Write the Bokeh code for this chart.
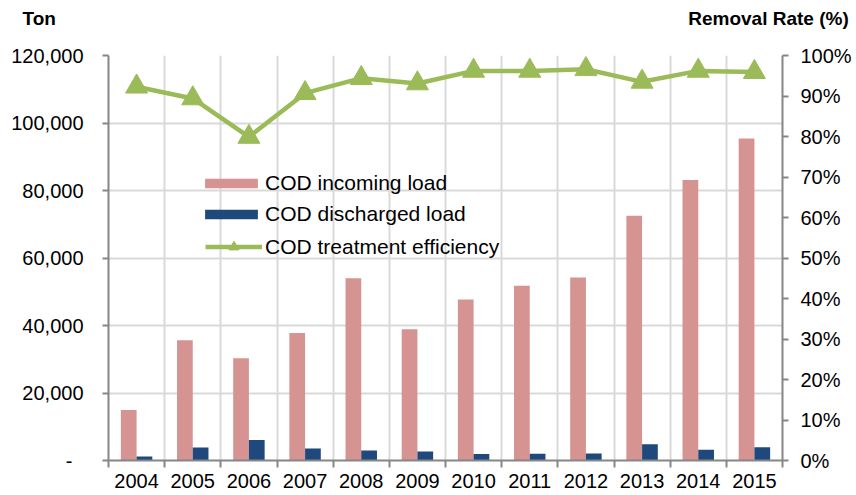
from bokeh.plotting import figure
from bokeh.models import (FixedTicker, LinearAxis, Range1d, Legend, LegendItem, LogScale,
                          NumeralTickFormatter, CustomJSTickFormatter, ColumnDataSource)
from bokeh.embed import file_html
from bokeh.resources import INLINE

# ---- data ----
years = [2004, 2005, 2006, 2007, 2008, 2009, 2010, 2011, 2012, 2013, 2014, 2015]
incoming = [15000, 35600, 30300, 37800, 54000, 38900, 47700, 51800, 54200, 72500, 83100, 95400]
discharged = [1200, 3850, 6100, 3550, 3000, 2700, 1900, 2000, 2100, 4800, 3200, 3900]
efficiency = [0.923, 0.894, 0.799, 0.907, 0.944, 0.931, 0.962, 0.962, 0.966, 0.935, 0.962, 0.959]
left_ticks = [0, 20000, 40000, 60000, 80000, 100000, 120000]
right_ticks = [0.0, 0.1, 0.2, 0.3, 0.4, 0.5, 0.6, 0.7, 0.8, 0.9, 1.0]
series_names = ["COD incoming load", "COD discharged load", "COD treatment efficiency"]
left_title = "Ton"
right_title = "Removal Rate (%)"

FONT = "Liberation Sans"
AXIS_GRAY = "#868686"
GRID_GRAY = "#D9D9D9"
C_IN = "#D59391"
C_OUT = "#1F497D"
C_EFF = "#9BBB59"

W, H = 856, 495
BL, BR, BT, BB = 108, 74, 55, 35
FRAME_W = W - BL - BR

bar_w = 0.28
src = ColumnDataSource(dict(
    x_in=[y - bar_w / 2 for y in years],
    x_out=[y + bar_w / 2 for y in years],
    year=years, incoming=incoming, discharged=discharged, eff=efficiency,
))

p = figure(width=W, height=H, output_backend="svg", toolbar_location=None, title_location=None,
           x_range=Range1d(years[0] - 0.5, years[-1] + 0.5),
           y_range=Range1d(left_ticks[0], left_ticks[-1]),
           min_border_left=BL, min_border_right=BR, min_border_top=BT, min_border_bottom=BB)
p.outline_line_color = None
p.background_fill_color = "white"
p.border_fill_color = "white"

# the default bottom and left axes (grab them before other axes are added)
xa = p.below[0]
ya = p.left[0]

p.extra_y_ranges = {"pct": Range1d(right_ticks[0], right_ticks[-1])}

# x axis: labels at centres, tick marks/grid at category boundaries
xt = FixedTicker(ticks=years, minor_ticks=[y - 0.5 for y in years] + [years[-1] + 0.5])
xa.ticker = xt
xa.formatter = NumeralTickFormatter(format="0")
xa.major_tick_line_color = None
xa.major_tick_out = 6
xa.minor_tick_line_color = AXIS_GRAY
xa.minor_tick_line_width = 2
xa.minor_tick_out = 7
xa.minor_tick_in = 0
xa.axis_line_color = AXIS_GRAY
xa.axis_line_width = 2
xa.major_label_text_font = FONT
xa.major_label_text_font_size = "20px"
xa.major_label_text_color = "black"
xa.major_label_standoff = 6
p.xgrid.ticker = xt
p.xgrid.grid_line_color = None
p.xgrid.minor_grid_line_color = GRID_GRAY
p.xgrid.minor_grid_line_width = 2

# left axis
ya.ticker = FixedTicker(ticks=left_ticks)
ya.formatter = NumeralTickFormatter(format="0,0")
ya.major_label_overrides = {0: "-\u00a0\u00a0"}
ya.axis_line_color = AXIS_GRAY
ya.axis_line_width = 2
ya.major_tick_line_color = AXIS_GRAY
ya.major_tick_line_width = 2
ya.major_tick_out = 6
ya.major_tick_in = 0
ya.minor_tick_line_color = None
ya.major_label_text_font = FONT
ya.major_label_text_font_size = "20px"
ya.major_label_text_color = "black"
ya.major_label_standoff = 19
p.ygrid.ticker = FixedTicker(ticks=left_ticks)
p.ygrid.grid_line_color = GRID_GRAY
p.ygrid.grid_line_width = 2

# right axis
ra = LinearAxis(y_range_name="pct", ticker=FixedTicker(ticks=right_ticks),
                formatter=NumeralTickFormatter(format="0%"))
ra.axis_line_color = AXIS_GRAY
ra.axis_line_width = 2
ra.major_tick_line_color = AXIS_GRAY
ra.major_tick_line_width = 2
ra.major_tick_out = 6
ra.major_tick_in = 0
ra.minor_tick_line_color = None
ra.major_label_text_font = FONT
ra.major_label_text_font_size = "20px"
ra.major_label_text_color = "black"
ra.major_label_standoff = 12
p.add_layout(ra, "right")

# ---- axis titles: one invisible axis above the frame
p.extra_x_ranges = {"ttl": Range1d(1, 1000)}
p.extra_x_scales = {"ttl": LogScale()}

def px_to_ttl(px):
    return 10 ** (3.0 * (px - BL) / FRAME_W)

ton_x = px_to_ttl(110)         # "Ton" label anchored at the frame's left edge, padded to the left
rr_x = px_to_ttl(768)          # centre of "Removal Rate (%)"
ton_text = left_title + "\u00a0" * 27
ta = LinearAxis(x_range_name="ttl", ticker=FixedTicker(ticks=[ton_x, rr_x]),
                formatter=CustomJSTickFormatter(args=dict(a=ton_text, b=right_title),
                                                code="return tick < 10 ? a : b"))
ta.axis_line_color = None
ta.major_tick_line_color = None
ta.minor_tick_line_color = None
ta.major_tick_out = 0
ta.major_tick_in = 0
ta.major_label_standoff = 27
ta.major_label_text_font = FONT
ta.major_label_text_font_size = "19px"
ta.major_label_text_font_style = "bold"
ta.major_label_text_color = "black"
p.add_layout(ta, "above")

# bars
r_in = p.vbar(x="x_in", top="incoming", width=bar_w, source=src, fill_color=C_IN, line_color=None)
r_out = p.vbar(x="x_out", top="discharged", width=bar_w, source=src, fill_color=C_OUT, line_color=None)

# efficiency line
r_line = p.line(x="year", y="eff", source=src, y_range_name="pct", line_color=C_EFF, line_width=4.5)
r_mk = p.scatter(x="year", y="eff", source=src, y_range_name="pct", marker="triangle",
                 size=22, fill_color=C_EFF, line_color=C_EFF)

# legends
legA = Legend(items=[LegendItem(label=series_names[0], renderers=[r_in]),
                     LegendItem(label=series_names[1], renderers=[r_out])],
              location=(90, 234), glyph_width=66, glyph_height=12, label_height=24,
              spacing=7, padding=0, margin=0, label_standoff=1,
              label_text_font=FONT, label_text_font_size="21px", label_text_color="black",
              border_line_color=None, background_fill_alpha=0)
legB = Legend(items=[LegendItem(label=series_names[2], renderers=[r_line, r_mk])],
              location=(97, 201), glyph_width=57, glyph_height=25, label_height=24,
              padding=0, margin=0, label_standoff=3,
              label_text_font=FONT, label_text_font_size="21px", label_text_color="black",
              border_line_color=None, background_fill_alpha=0)
p.add_layout(legA)
p.add_layout(legB)

open("out.html", "w").write(file_html(p, INLINE))
